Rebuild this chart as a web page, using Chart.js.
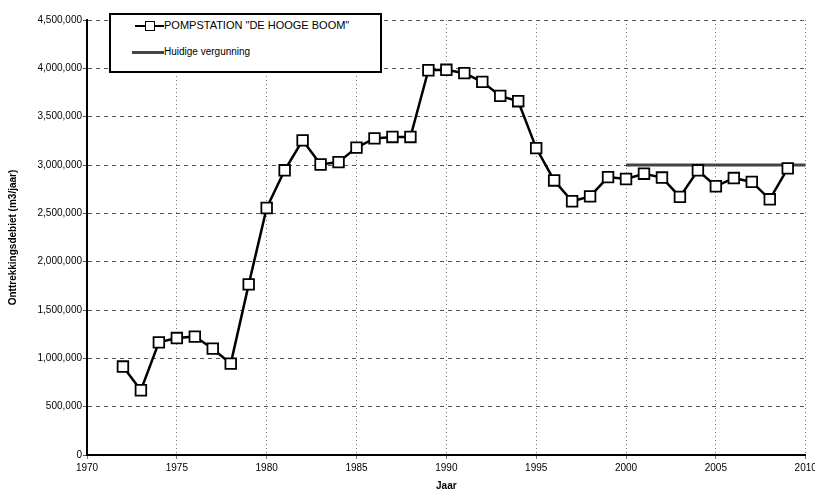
<!DOCTYPE html>
<html>
<head>
<meta charset="utf-8">
<script src="https://cdn.jsdelivr.net/npm/chart.js@4.4.1/dist/chart.umd.min.js"></script>
<style>
  body { margin: 0; background: #fff; }
  #wrap { position: relative; width: 815px; height: 492px; overflow: hidden; }
  #legend {
    position: absolute; left: 109px; top: 13px; width: 269px; height: 56px;
    border: 2px solid #000; background: #fff;
    font-family: "Liberation Sans", Arial, sans-serif; color: #000;
  }
  .row { position: absolute; left: 0; height: 14px; }
  .sym { position: absolute; }
  .txt { position: absolute; left: 53px; white-space: nowrap; }
</style>
</head>
<body>
<div id="wrap">
  <canvas id="chart" width="815" height="492"></canvas>
  <div id="legend">
    <div class="row" style="top:4px;">
      <div class="sym" style="left:24px; top:6px; width:29px; height:2px; background:#000;"></div>
      <div class="sym" style="left:34px; top:2px; width:8px; height:8px; border:1.5px solid #000; background:#fff;"></div>
      <div class="txt" style="font-size:11px; top:0px;">POMPSTATION "DE HOOGE BOOM"</div>
    </div>
    <div class="row" style="top:30px;">
      <div class="sym" style="left:21px; top:6px; width:32px; height:3px; background:#444;"></div>
      <div class="txt" style="font-size:10px; top:1px;">Huidige vergunning</div>
    </div>
  </div>
</div>
<script>
// Data
const years = [1972, 1973, 1974, 1975, 1976, 1977, 1978, 1979, 1980, 1981,
               1982, 1983, 1984, 1985, 1986, 1987, 1988, 1989, 1990, 1991,
               1992, 1993, 1994, 1995, 1996, 1997, 1998, 1999, 2000, 2001,
               2002, 2003, 2004, 2005, 2006, 2007, 2008, 2009];
const pompstation = [915000, 670000, 1165000, 1210000, 1225000, 1100000, 945000, 1765000, 2555000, 2945000,
                     3255000, 3005000, 3030000, 3180000, 3275000, 3290000, 3290000, 3980000, 3985000, 3950000,
                     3860000, 3715000, 3660000, 3175000, 2840000, 2625000, 2675000, 2875000, 2855000, 2910000,
                     2870000, 2670000, 2945000, 2780000, 2865000, 2825000, 2645000, 2965000];
const vergunningYears = [2000, 2010];
const vergunning = [3000000, 3000000];

const yTicks = [0, 500000, 1000000, 1500000, 2000000, 2500000, 3000000, 3500000, 4000000, 4500000];
const xTicks = [1970, 1975, 1980, 1985, 1990, 1995, 2000, 2005, 2010];

const font = { family: '"Liberation Sans", Arial, sans-serif', size: 10 };

new Chart(document.getElementById('chart'), {
    type: 'line',
    data: {
        datasets: [{
            label: 'POMPSTATION "DE HOOGE BOOM"',
            data: years.map((y, i) => ({ x: y, y: pompstation[i] })),
            borderColor: '#000',
            borderWidth: 2.5,
            pointStyle: 'rect',
            pointRadius: 7.5,
            pointBorderWidth: 1.8,
            pointBackgroundColor: '#fff',
            pointBorderColor: '#000',
            tension: 0
        }, {
            label: 'Huidige vergunning',
            data: vergunningYears.map((y, i) => ({ x: y, y: vergunning[i] })),
            borderColor: '#444',
            borderWidth: 3,
            pointRadius: 0,
            order: 1
        }]
    },
    options: {
        responsive: false,
        animation: false,
        layout: { padding: { top: 20, right: 9, left: 0, bottom: 0 } },
        plugins: {
            legend: { display: false },
            tooltip: { enabled: false }
        },
        scales: {
            x: {
                type: 'linear',
                min: 1970,
                max: 2010,
                afterBuildTicks: axis => { axis.ticks = xTicks.map(v => ({ value: v })); },
                afterFit: axis => { axis.height = 37; axis.paddingRight = 0; axis.paddingLeft = 0; },
                ticks: { font: font, color: '#000', padding: 3, maxRotation: 0, callback: v => String(v) },
                grid: { color: '#777', lineWidth: 1, tickLength: 4 },
                border: { display: true, color: '#000', width: 2, dash: [1, 3] },
                title: { display: true, text: 'Jaar', font: { ...font, weight: 'bold' }, color: '#000', padding: { top: 0, bottom: 0 } }
            },
            y: {
                min: 0,
                max: 4500000,
                afterBuildTicks: axis => { axis.ticks = yTicks.map(v => ({ value: v })); },
                afterFit: axis => { axis.width = 87; },
                ticks: {
                    font: font, color: '#000', padding: 1,
                    callback: v => v.toLocaleString('en-US')
                },
                grid: { color: '#555', lineWidth: 1, tickLength: 4 },
                border: { display: true, color: '#000', width: 2, dash: [4, 4] },
                title: { display: true, text: 'Onttrekkingsdebiet (m3/jaar)', font: { ...font, weight: 'bold' }, color: '#000', padding: { top: 7, bottom: 0 } }
            }
        }
    }
});
</script>
</body>
</html>
